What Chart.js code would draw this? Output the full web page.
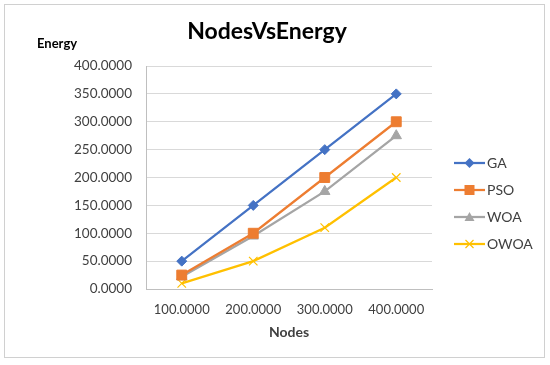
<!DOCTYPE html>
<html>
<head>
<meta charset="utf-8">
<script src="https://cdn.jsdelivr.net/npm/chart.js@4.4.1/dist/chart.umd.min.js"></script>
<style>
  html, body { margin: 0; padding: 0; background: #fff; }
  #wrap { position: relative; width: 550px; height: 365px; }
  #c { position: absolute; left: 0; top: 0; }
  #frame { position: absolute; left: 4px; top: 4px; width: 539px; height: 352px; border: 1px solid #d0d0d0; pointer-events: none; }
</style>
</head>
<body>
<div id="wrap">
  <canvas id="c" width="550" height="365"></canvas>
  <div id="frame"></div>
</div>
<script>
const categories = ['100.0000', '200.0000', '300.0000', '400.0000'];
const seriesNames = ['GA', 'PSO', 'WOA', 'OWOA'];
const gaValues   = [50, 150, 250, 350];
const psoValues  = [25, 100, 200, 300];
const woaValues  = [22, 95, 175, 275];
const owoaValues = [10, 50, 110, 200];
const colors = ['#4472C4', '#ED7D31', '#A5A5A5', '#FFC000'];
const pointStyles = ['rectRot', 'rect', 'triangle', 'crossRot'];
const pointRadii = [5, 7, 6, 6];
const yMin = 0, yMax = 400, yStep = 50;

function legendIcon(color, style) {
  const cv = document.createElement('canvas');
  cv.width = 45; cv.height = 14;
  const g = cv.getContext('2d');
  g.strokeStyle = color; g.fillStyle = color; g.lineWidth = 2.25;
  g.beginPath(); g.moveTo(14, 7); g.lineTo(45, 7); g.stroke();
  const cx = 29.5, cy = 7;
  g.beginPath();
  if (style === 'rectRot') {
    g.moveTo(cx, cy - 5); g.lineTo(cx + 5, cy); g.lineTo(cx, cy + 5); g.lineTo(cx - 5, cy); g.closePath(); g.fill();
  } else if (style === 'rect') {
    g.fillRect(cx - 5, cy - 5, 10, 10);
  } else if (style === 'triangle') {
    g.moveTo(cx, cy - 5); g.lineTo(cx + 5, cy + 4); g.lineTo(cx - 5, cy + 4); g.closePath(); g.fill();
  } else {
    g.lineWidth = 1.2;
    g.moveTo(cx - 4, cy - 4); g.lineTo(cx + 4, cy + 4); g.moveTo(cx + 4, cy - 4); g.lineTo(cx - 4, cy + 4); g.stroke();
  }
  return cv;
}
const legendIcons = colors.map((c, i) => legendIcon(c, pointStyles[i]));

const allValues = [gaValues, psoValues, woaValues, owoaValues];
const datasets = seriesNames.map((name, i) => ({
  label: name,
  data: allValues[i],
  borderColor: colors[i],
  backgroundColor: colors[i],
  borderWidth: 2.25,
  pointStyle: pointStyles[i],
  pointRadius: pointRadii[i],
  pointHoverRadius: pointRadii[i],
  pointBorderWidth: i === 3 ? 1.2 : 1,
  pointBackgroundColor: colors[i],
  pointBorderColor: colors[i],
  tension: 0,
  fill: false
}));

const axisTitlePlugin = {
  id: 'axisTitle',
  afterDraw(chart) {
    const ctx = chart.ctx;
    ctx.save();
    ctx.font = 'bold 13px Lato';
    ctx.fillStyle = '#000';
    ctx.textAlign = 'left';
    ctx.textBaseline = 'middle';
    ctx.fillText('Energy', 37, 44);
    ctx.restore();
  }
};

new Chart(document.getElementById('c'), {
  type: 'line',
  data: { labels: categories, datasets },
  options: {
    responsive: false,
    animation: false,
    layout: { padding: { left: 0, right: 16, top: 0, bottom: 0 } },
    plugins: {
      title: {
        display: true,
        text: 'NodesVsEnergy',
        color: '#000',
        font: { family: 'Lato', size: 23, weight: 'bold', lineHeight: 1.2 },
        padding: { top: 18, bottom: 20.4 }
      },
      legend: {
        display: true,
        position: 'right',
        maxWidth: 102,
        title: { display: true, text: ' ', font: { size: 1, lineHeight: 1 }, padding: { top: 41, bottom: 0 } },
        labels: {
          usePointStyle: true,
          pointStyleWidth: 35,
          padding: 13,
          color: '#404040',
          font: { family: 'Lato', size: 14 },
          generateLabels(chart) {
            const items = Chart.defaults.plugins.legend.labels.generateLabels(chart);
            items.forEach((it, i) => { it.pointStyle = legendIcons[i]; });
            return items;
          }
        }
      },
      tooltip: { enabled: false }
    },
    scales: {
      x: {
        type: 'category',
        offset: true,
        grid: { display: false, drawTicks: false },
        border: { display: true, color: '#bfbfbf', width: 1 },
        ticks: { color: '#404040', font: { family: 'Lato', size: 13 }, padding: 13, maxRotation: 0 },
        title: { display: true, text: 'Nodes', color: '#404040', font: { family: 'Lato', size: 14, weight: 'bold' }, padding: { top: 4, bottom: 24 } },
        afterFit(scale) { scale.height = 76; }
      },
      y: {
        min: yMin, max: yMax,
        ticks: { stepSize: yStep, color: '#404040', font: { family: 'Lato', size: 13.5 }, padding: 14,
                 callback: v => Number(v).toFixed(4) },
        grid: { color: '#d9d9d9', drawTicks: false, lineWidth: 1 },
        border: { display: true, color: '#bfbfbf', width: 1 },
        afterFit(scale) { scale.width = 146; }
      }
    }
  },
  plugins: [axisTitlePlugin]
});
</script>
</body>
</html>
